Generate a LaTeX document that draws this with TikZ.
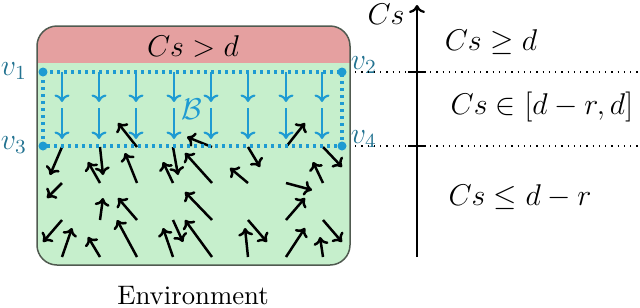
\documentclass[tikz,border=0pt]{standalone}
\usepackage{amsmath,amssymb}
\usetikzlibrary{arrows.meta}
\definecolor{envgreen}{RGB}{198,239,204}
\definecolor{bandred}{RGB}{229,160,160}
\definecolor{flowblue}{RGB}{30,155,210}
\definecolor{labelteal}{RGB}{35,115,145}
\definecolor{envborder}{RGB}{80,90,80}
\begin{document}
\begin{tikzpicture}[x=0.4pt,y=-0.4pt]
\tikzset{
  field/.style={-{To[length=3.2pt,width=6pt]},line width=1pt},
  flow/.style={-{To[length=3pt,width=6pt]},line width=0.85pt,flowblue},
  boundary/.style={flowblue,line width=1.4pt,dash pattern=on 1.3pt off 1.5pt},
  corner/.style={circle,fill=flowblue,inner sep=0pt,minimum size=3.6pt},
  vlabel/.style={text=labelteal,font=\large},
  level/.style={dotted,line width=0.5pt},
  region/.style={font=\large}
}
\useasboundingbox (0,0) rectangle (640,307);
\begin{scope}
\clip[rounded corners=8] (37,26) rectangle (350,265);
\fill[envgreen] (37,26) rectangle (350,265);
\fill[bandred] (37,26) rectangle (350,63);
\end{scope}
\draw[envborder,line width=0.6pt,rounded corners=8] (37,26) rectangle (350,265);
\node[font=\large] (band) at (193,46) {$Cs > d$};
\coordinate (v1) at (43,72);
\coordinate (v2) at (342,72);
\coordinate (v3) at (43,146);
\coordinate (v4) at (342,146);
\draw[flow] (62,72) -- ++(0,30);
\draw[flow] (99,72) -- ++(0,30);
\draw[flow] (136,72) -- ++(0,30);
\draw[flow] (174,72) -- ++(0,30);
\draw[flow] (211,72) -- ++(0,30);
\draw[flow] (248,72) -- ++(0,30);
\draw[flow] (286,72) -- ++(0,30);
\draw[flow] (322,72) -- ++(0,30);
\draw[flow] (62,108) -- ++(0,31);
\draw[flow] (99,108) -- ++(0,31);
\draw[flow] (136,108) -- ++(0,31);
\draw[flow] (174,108) -- ++(0,31);
\draw[flow] (211,108) -- ++(0,31);
\draw[flow] (248,108) -- ++(0,31);
\draw[flow] (286,108) -- ++(0,31);
\draw[flow] (322,108) -- ++(0,31);
\draw[field] (62,147) -- ++(-12,28);
\draw[field] (100,147) -- ++(3,28);
\draw[field] (137,147) -- ++(-19,-24);
\draw[field] (173,147) -- ++(5,28);
\draw[field] (212,147) -- ++(-25,-10);
\draw[field] (248,147) -- ++(12,20);
\draw[field] (286,147) -- ++(19,-24);
\draw[field] (323,147) -- ++(19,20);
\draw[field] (62,183) -- ++(-15,15);
\draw[field] (100,183) -- ++(-12,-21);
\draw[field] (137,183) -- ++(-12,-30);
\draw[field] (173,183) -- ++(-10,-21);
\draw[field] (212,183) -- ++(-27,-30);
\draw[field] (248,183) -- ++(-18,-15);
\draw[field] (286,183) -- ++(26,7);
\draw[field] (323,183) -- ++(-10,-21);
\draw[field] (62,220) -- ++(-19,22);
\draw[field] (100,220) -- ++(3,-22);
\draw[field] (137,220) -- ++(-19,-22);
\draw[field] (173,220) -- ++(10,22);
\draw[field] (212,220) -- ++(-27,-28);
\draw[field] (248,220) -- ++(19,22);
\draw[field] (286,220) -- ++(19,-22);
\draw[field] (323,220) -- ++(19,22);
\draw[field] (62,257) -- ++(10,-29);
\draw[field] (100,257) -- ++(-12,-20);
\draw[field] (137,257) -- ++(-20,-37);
\draw[field] (173,257) -- ++(-10,-29);
\draw[field] (212,257) -- ++(-27,-37);
\draw[field] (248,257) -- ++(-3,-29);
\draw[field] (286,257) -- ++(19,-29);
\draw[field] (323,257) -- ++(-3,-20);
\draw[boundary] (v1) -- (v2) -- (v4) -- (v3) -- cycle;
\node[corner] at (v1) {};
\node[corner] at (v2) {};
\node[corner] at (v3) {};
\node[corner] at (v4) {};
\node[text=flowblue,font=\large] (setB) at (192,109) {$\mathcal{B}$};
\node[vlabel] (lv1) at (14,71) {$v_1$};
\node[vlabel] (lv3) at (14,145) {$v_3$};
\node[vlabel] (lv2) at (364,65) {$v_2$};
\node[vlabel] (lv4) at (364,139) {$v_4$};
\node[font=\fontsize{10.7pt}{13pt}\selectfont] (env) at (193,296) {Environment};
\coordinate (axbot) at (417,257);
\coordinate (axtop) at (417,5);
\draw[level] (355,72) -- (640,72);
\draw[level] (355,146) -- (640,146);
\draw[-{To[length=3.2pt,width=6.4pt]},line width=0.9pt] (axbot) -- (axtop);
\draw[line width=0.6pt] (408,72) -- (426,72);
\draw[line width=0.6pt] (408,146) -- (426,146);
\node[font=\large] (axlabel) at (386,14) {$Cs$};
\node[region] (high) at (491,42) {$Cs \geq d$};
\node[region] (mid) at (542,107) {$Cs \in [d-r,d]$};
\node[region] (low) at (520,197) {$Cs \leq d-r$};
\end{tikzpicture}
\end{document}
